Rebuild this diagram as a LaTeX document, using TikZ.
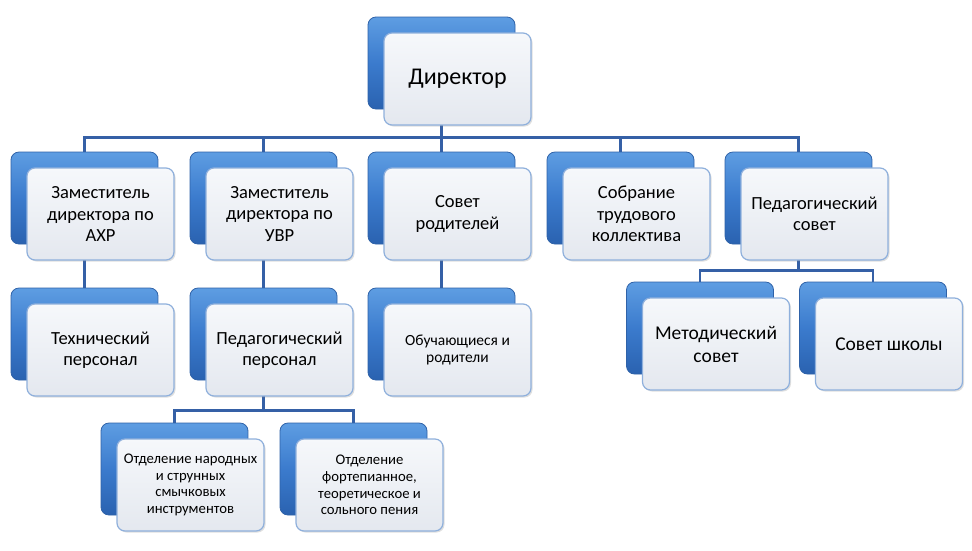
\documentclass[tikz,border=0pt]{standalone}
\usepackage{fontspec}
\setmainfont{Carlito}
\usetikzlibrary{calc,shadows}
\pgfdeclarelayer{bg}
\pgfsetlayers{bg,main}
\definecolor{linec}{HTML}{3560A6}
\definecolor{blueT}{HTML}{5E9DE2}
\definecolor{blueM}{HTML}{3B7BCD}
\definecolor{blueB}{HTML}{2A62B0}
\definecolor{blueD}{HTML}{2F62A8}
\definecolor{frT}{HTML}{F6F8FB}
\definecolor{frB}{HTML}{E4E8EF}
\definecolor{frD}{HTML}{8FB0DC}
\begin{document}
\begin{tikzpicture}[x=1pt,y=-1pt,
  backbox/.style={rectangle, rounded corners=8pt, minimum width=147pt, minimum height=92pt,
    top color=blueT, bottom color=blueB, middle color=blueM, draw=blueD, line width=0.8pt, inner sep=0pt},
  frontbox/.style={rectangle, rounded corners=8pt, minimum width=147pt, minimum height=92pt,
    top color=frT, bottom color=frB, draw=frD, line width=1.2pt, align=center, inner sep=2pt,
    drop shadow={opacity=0.25, shadow xshift=1.5pt, shadow yshift=-1.5pt}},
  conn/.style={draw=linec, line width=2.2pt},
  fbig/.style={font=\fontsize{24}{29}\selectfont},
  fmid/.style={font=\fontsize{18.5}{21.5}\selectfont},
  fsmall/.style={font=\fontsize{14.7}{16.8}\selectfont},
  fobu/.style={font=\fontsize{15.5}{17.5}\selectfont},
  flarge/.style={font=\fontsize{19.5}{23}\selectfont}]
\useasboundingbox (0,0) rectangle (972,550);

% Director
\node[backbox] (d) at (441.5,63) {};
\node[frontbox, fbig] (dt) at ($(d)+(16,16)$) {Директор};

% Level 2
\node[backbox] (a) at (84.5,198) {};
\node[frontbox, fmid] (at) at ($(a)+(16,16)$) {Заместитель\\директора по\\АХР};
\node[backbox] (b) at (263.5,198) {};
\node[frontbox, fmid] (bt) at ($(b)+(16,16)$) {Заместитель\\директора по\\УВР};
\node[backbox] (c) at (441.5,198) {};
\node[frontbox, fmid] (ct) at ($(c)+(16,16)$) {Совет\\родителей};
\node[backbox] (e) at (620.5,198) {};
\node[frontbox, fmid] (et) at ($(e)+(16,16)$) {Собрание\\трудового\\коллектива};
\node[backbox] (f) at (798.5,198) {};
\node[frontbox, fmid] (ft) at ($(f)+(16,16)$) {Педагогический\\совет};

% Level 3
\node[backbox] (a3) at (84.5,334) {};
\node[frontbox, fmid] (a3t) at ($(a3)+(16,16)$) {Технический\\персонал};
\node[backbox] (b3) at (263.5,334) {};
\node[frontbox, fmid] (b3t) at ($(b3)+(16,16)$) {Педагогический\\персонал};
\node[backbox] (c3) at (441.5,334) {};
\node[frontbox, fobu] (c3t) at ($(c3)+(16,16)$) {Обучающиеся и\\родители};

% Right level 3
\node[backbox] (m) at (700,328) {};
\node[frontbox, flarge] (mt) at ($(m)+(16,16)$) {Методический\\совет};
\node[backbox] (s) at (873,328) {};
\node[frontbox, flarge] (st) at ($(s)+(16,16)$) {Совет школы};

% Level 4
\node[backbox] (p) at (174.5,469) {};
\node[frontbox, fsmall] (pt) at ($(p)+(16,16)$) {Отделение народных\\и струнных\\смычковых\\инструментов};
\node[backbox] (q) at (353.5,469) {};
\node[frontbox, fsmall] (qt) at ($(q)+(16,16)$) {Отделение\\фортепианное,\\теоретическое и\\сольного пения};

\begin{pgfonlayer}{bg}
  \fill[white] (0,0) rectangle (972,550);
  \coordinate (bar1) at ($(d.south)+(0,28)$);
  \draw[conn] (d.south) -- (bar1);
  \foreach \n in {a,b,c,e,f} \draw[conn] (bar1) -| (\n.north);
  \draw[conn] (a.south) -- (a3.north);
  \draw[conn] (b.south) -- (b3.north);
  \draw[conn] (c.south) -- (c3.north);
  \coordinate (bar2) at ($(b3.south)+(0,30)$);
  \draw[conn] (b3.south) -- (bar2);
  \foreach \n in {p,q} \draw[conn] (bar2) -| (\n.north);
  \coordinate (bar3) at ($(f.south)+(0,26)$);
  \draw[conn] (f.south) -- (bar3);
  \foreach \n in {m,s} \draw[conn] (bar3) -| (\n.north);
\end{pgfonlayer}
\end{tikzpicture}
\end{document}
